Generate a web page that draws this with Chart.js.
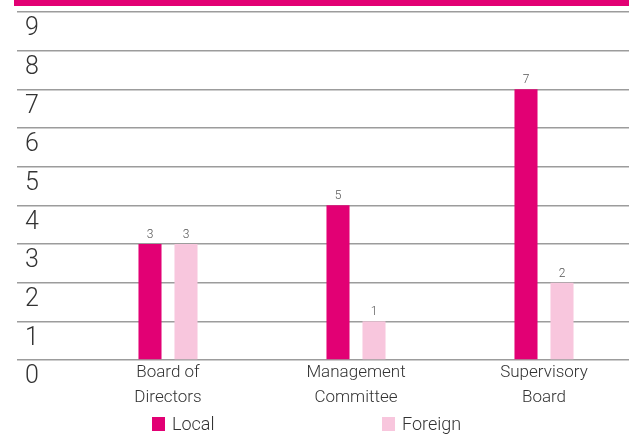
<!DOCTYPE html>
<html><head><meta charset="utf-8">
<script src="https://cdn.jsdelivr.net/npm/chart.js@4/dist/chart.umd.min.js"></script>
<style>
html,body{margin:0;padding:0;background:#fff;overflow:hidden}
#wrap{width:629px;height:446px;overflow:hidden;position:relative}
canvas{display:block}
</style></head>
<body><div id="wrap"><canvas id="c" width="640" height="446"></canvas></div>
<script>
const categories = [["Board of","Directors"],["Management","Committee"],["Supervisory","Board"]];
const seriesNames = ["Local","Foreign"];
const localValues = [3, 4, 7];
const foreignValues = [3, 1, 2];
const localValueLabels = ["3", "5", "7"];
const foreignValueLabels = ["3", "1", "2"];
const yMin = 0, yMax = 9, yStep = 1;

const MAGENTA = '#e20074';
const PINK = '#f8c6dd';
const GRID = '#9c9c9c';
const TEXT = '#333333';
const FONT = 'Roboto';

const valueLabelSets = [localValueLabels, foreignValueLabels];

const topBand = {
  id: 'topBand',
  beforeDraw(chart) {
    const ctx = chart.ctx;
    ctx.save();
    ctx.fillStyle = MAGENTA;
    ctx.fillRect(14, 0, chart.width, 6);
    ctx.restore();
  }
};

const valueLabels = {
  id: 'valueLabels',
  afterDatasetsDraw(chart) {
    const ctx = chart.ctx;
    ctx.save();
    ctx.font = '300 12px ' + FONT;
    ctx.fillStyle = '#555';
    ctx.textAlign = 'center';
    ctx.textBaseline = 'bottom';
    chart.data.datasets.forEach((ds, di) => {
      chart.getDatasetMeta(di).data.forEach((bar, i) => {
        ctx.fillText(valueLabelSets[di][i], bar.x, bar.y - 3);
      });
    });
    ctx.restore();
  }
};

const customLegend = {
  id: 'customLegend',
  afterDraw(chart) {
    const ctx = chart.ctx;
    const starts = [152, 382];
    const cy = 424;
    ctx.save();
    ctx.font = '300 18px ' + FONT;
    ctx.textBaseline = 'middle';
    ctx.textAlign = 'left';
    chart.data.datasets.forEach((ds, i) => {
      ctx.fillStyle = ds.backgroundColor;
      ctx.fillRect(starts[i], cy - 7, 13, 14);
      ctx.fillStyle = TEXT;
      ctx.fillText(ds.label, starts[i] + 20, cy + 1);
    });
    ctx.restore();
  }
};

new Chart(document.getElementById('c'), {
  type: 'bar',
  data: {
    labels: categories,
    datasets: [
      { label: seriesNames[0], data: localValues, backgroundColor: MAGENTA },
      { label: seriesNames[1], data: foreignValues, backgroundColor: PINK }
    ]
  },
  options: {
    responsive: false,
    animation: false,
    events: [],
    categoryPercentage: 0.383,
    barPercentage: 0.64,
    layout: { padding: { top: 12, left: 25, right: 2, bottom: 0 } },
    plugins: { legend: { display: false }, tooltip: { enabled: false } },
    scales: {
      x: {
        grid: { display: false, drawTicks: false },
        border: { display: false },
        ticks: {
          color: TEXT, padding: 0, maxRotation: 0, autoSkip: false,
          font: { family: FONT, size: 17, weight: 300, lineHeight: 1.47 }
        },
        afterFit(s) { s.height = 86; s.paddingLeft = 0; s.paddingRight = 0; }
      },
      y: {
        min: yMin, max: yMax,
        border: { display: false },
        grid: { color: GRID, lineWidth: 1.5, tickLength: 57, tickColor: GRID, drawTicks: true },
        ticks: {
          stepSize: yStep, crossAlign: 'far', labelOffset: 17, color: TEXT,
          font: { family: FONT, size: 25, weight: 300 }
        },
        afterFit(s) { s.width = 49; s.paddingTop = 0; s.paddingBottom = 0; }
      }
    }
  },
  plugins: [topBand, valueLabels, customLegend]
});
</script>
</body></html>
